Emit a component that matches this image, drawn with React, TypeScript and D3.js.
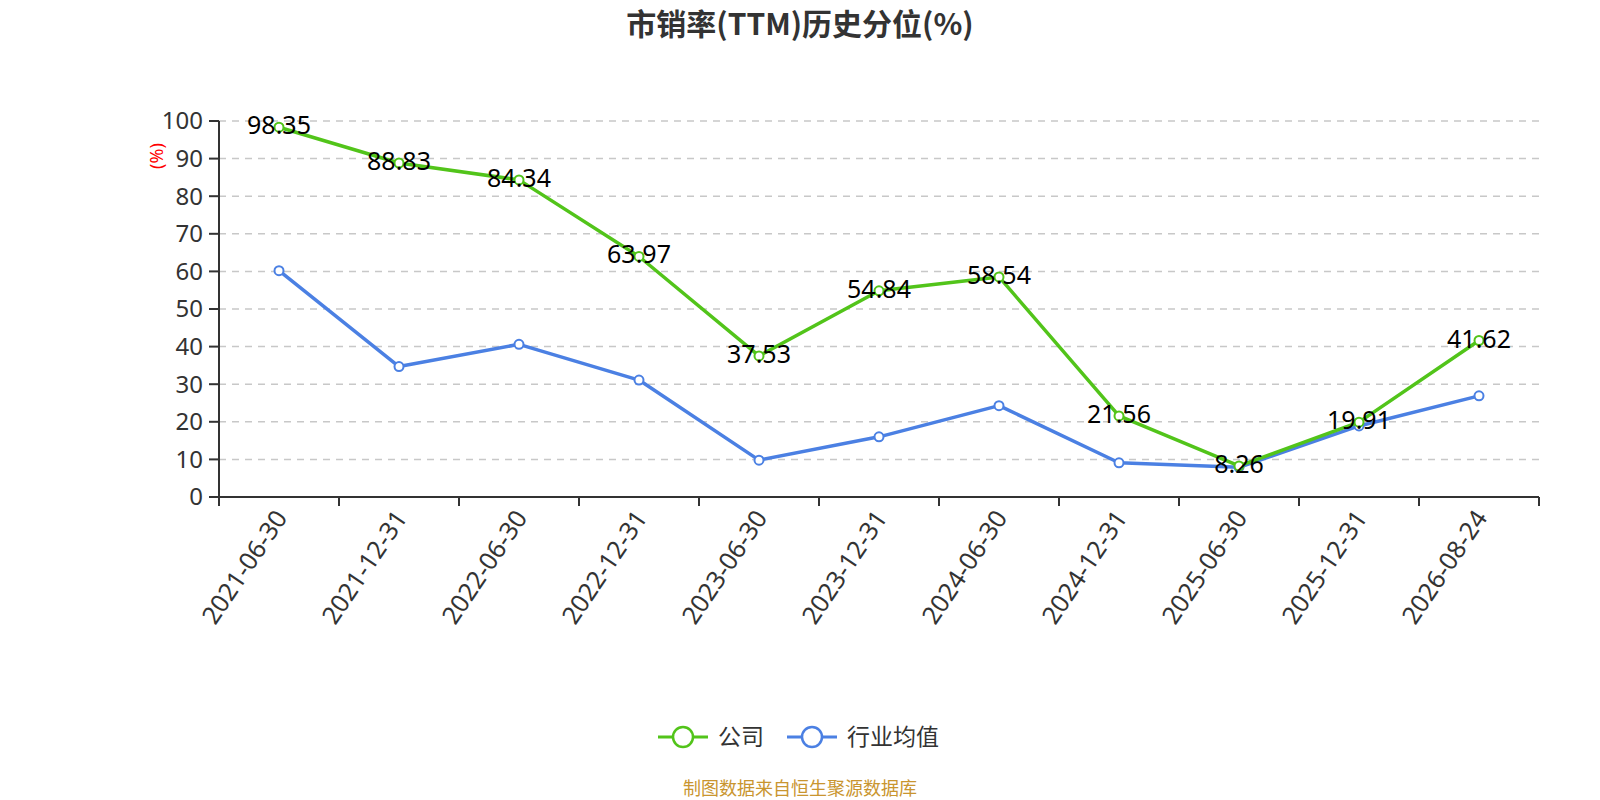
import { useEffect, useRef } from 'react'
import * as d3 from 'd3'

const categories = [
  '2021-06-30', '2021-12-31', '2022-06-30', '2022-12-31', '2023-06-30', '2023-12-31',
  '2024-06-30', '2024-12-31', '2025-06-30', '2025-12-31', '2026-08-24',
]
const companyValues = [98.35, 88.83, 84.34, 63.97, 37.53, 54.84, 58.54, 21.56, 8.26, 19.91, 41.62]
const industryValues = [60.2, 34.7, 40.6, 31.1, 9.8, 16.0, 24.3, 9.1, 7.9, 18.9, 26.9]
const yTicks = [0, 10, 20, 30, 40, 50, 60, 70, 80, 90, 100]

const GREEN = '#52c41a'
const BLUE = '#4b80e3'
const FONT = "'Noto Sans', 'Noto Sans CJK SC', sans-serif"
const CJK = "'Noto Sans CJK SC', 'Noto Sans', sans-serif"

export default function App() {
  const svgRef = useRef<SVGSVGElement>(null)

  useEffect(() => {
    const svgEl = svgRef.current
    if (!svgEl) return
    const W = 1600
    const H = 800
    const margin = { top: 121, right: 61, bottom: 303, left: 219 }

    const svg = d3.select(svgEl)
    svg.selectAll('*').remove()
    svg.attr('width', W).attr('height', H)

    const x = d3.scaleBand<string>()
      .domain(categories)
      .range([margin.left, W - margin.right])
      .paddingInner(0).paddingOuter(0)
    const cx = (c: string) => (x(c) ?? 0) + x.bandwidth() / 2

    const y = d3.scaleLinear().domain([0, 100]).range([H - margin.bottom, margin.top])

    // title
    svg.append('text')
      .attr('x', 800).attr('y', 24)
      .attr('dy', '0.35em')
      .attr('text-anchor', 'middle')
      .attr('font-family', CJK)
      .attr('font-size', 30).attr('font-weight', 700)
      .attr('fill', '#333')
      .text('市销率(TTM)历史分位(%)')

    // grid lines
    svg.append('g')
      .selectAll('line')
      .data(yTicks.filter(t => t > 0))
      .enter().append('line')
      .attr('x1', margin.left).attr('x2', W - margin.right)
      .attr('y1', d => y(d)).attr('y2', d => y(d))
      .attr('stroke', '#c8c8c8').attr('stroke-width', 1.5)
      .attr('stroke-dasharray', '7 6')

    // y axis
    const yAxis = svg.append('g')
    yAxis.append('line')
      .attr('x1', margin.left).attr('x2', margin.left)
      .attr('y1', y(100)).attr('y2', y(0))
      .attr('stroke', '#333').attr('stroke-width', 2)
    yAxis.selectAll('line.tick')
      .data(yTicks)
      .enter().append('line')
      .attr('class', 'tick')
      .attr('x1', margin.left - 10).attr('x2', margin.left)
      .attr('y1', d => y(d)).attr('y2', d => y(d))
      .attr('stroke', '#333').attr('stroke-width', 2)
    yAxis.selectAll('text')
      .data(yTicks)
      .enter().append('text')
      .attr('x', margin.left - 16)
      .attr('y', d => y(d))
      .attr('dy', '0.35em')
      .attr('text-anchor', 'end')
      .attr('font-family', FONT)
      .attr('font-size', 24)
      .attr('fill', '#333')
      .text(d => d)

    svg.append('text')
      .attr('transform', `translate(157,156) rotate(-90)`)
      .attr('text-anchor', 'middle')
      .attr('dy', '0.35em')
      .attr('font-family', FONT)
      .attr('font-size', 18)
      .attr('fill', 'red')
      .text('(%)')

    // x axis
    const xAxis = svg.append('g')
    xAxis.append('line')
      .attr('x1', margin.left).attr('x2', W - margin.right)
      .attr('y1', y(0)).attr('y2', y(0))
      .attr('stroke', '#333').attr('stroke-width', 2)
    const boundaries = [...categories.map(c => x(c) ?? 0), W - margin.right]
    xAxis.selectAll('line.tick')
      .data(boundaries)
      .enter().append('line')
      .attr('class', 'tick')
      .attr('x1', d => d).attr('x2', d => d)
      .attr('y1', y(0)).attr('y2', y(0) + 9)
      .attr('stroke', '#333').attr('stroke-width', 2)
    xAxis.selectAll('text')
      .data(categories)
      .enter().append('text')
      .attr('transform', c => `translate(${cx(c) + 2},${y(0) + 16}) rotate(-56)`)
      .attr('text-anchor', 'end')
      .attr('dy', '0.35em')
      .attr('font-family', FONT)
      .attr('font-size', 25)
      .attr('fill', '#333')
      .text(c => c)

    const series = [
      { name: '公司', values: companyValues, color: GREEN },
      { name: '行业均值', values: industryValues, color: BLUE },
    ]

    const line = d3.line<number>()
      .x((_, i) => cx(categories[i]))
      .y(v => y(v))

    // draw industry first so company sits on top
    ;[...series].reverse().forEach(s => {
      svg.append('path')
        .datum(s.values)
        .attr('d', line)
        .attr('fill', 'none')
        .attr('stroke', s.color)
        .attr('stroke-width', 3.5)
        .attr('stroke-linejoin', 'round')

      svg.append('g')
        .selectAll('circle')
        .data(s.values)
        .enter().append('circle')
        .attr('cx', (_, i) => cx(categories[i]))
        .attr('cy', v => y(v))
        .attr('r', 4.5)
        .attr('fill', '#fff')
        .attr('stroke', s.color)
        .attr('stroke-width', 2)
    })

    // company value labels
    svg.append('g')
      .selectAll('text')
      .data(companyValues)
      .enter().append('text')
      .attr('x', (_, i) => cx(categories[i]))
      .attr('y', v => y(v) + 7)
      .attr('text-anchor', 'middle')
      .attr('font-family', FONT)
      .attr('font-size', 25)
      .attr('fill', '#000')
      .text(v => v.toFixed(2))

    // legend
    const legendItems = [
      { name: '公司', color: GREEN, x: 658 },
      { name: '行业均值', color: BLUE, x: 787 },
    ]
    const lg = svg.append('g')
    legendItems.forEach(item => {
      const ly = 737
      lg.append('line')
        .attr('x1', item.x).attr('x2', item.x + 50)
        .attr('y1', ly).attr('y2', ly)
        .attr('stroke', item.color).attr('stroke-width', 3)
      lg.append('circle')
        .attr('cx', item.x + 25).attr('cy', ly)
        .attr('r', 10)
        .attr('fill', '#fff')
        .attr('stroke', item.color).attr('stroke-width', 2.5)
      lg.append('text')
        .attr('x', item.x + 60).attr('y', ly)
        .attr('dy', '0.35em')
        .attr('font-family', CJK)
        .attr('font-size', 23)
        .attr('fill', '#333')
        .text(item.name)
    })

    svg.append('text')
      .attr('x', 800).attr('y', 789)
      .attr('dy', '0.35em')
      .attr('text-anchor', 'middle')
      .attr('font-family', CJK)
      .attr('font-size', 18)
      .attr('fill', '#c9952f')
      .text('制图数据来自恒生聚源数据库')
  }, [])

  return (
    <div style={{ position: 'absolute', left: 0, top: 0, width: 1600, height: 800, background: '#fff' }}>
      <svg ref={svgRef} style={{ display: 'block' }} />
    </div>
  )
}
